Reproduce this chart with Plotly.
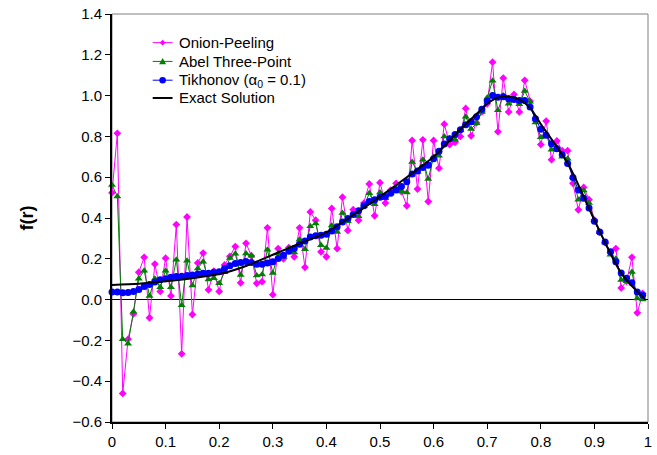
import plotly.graph_objects as go

r = [round(i * 0.01, 2) for i in range(100)]

onion = [0.524, 0.815, -0.46, -0.194, -0.07, 0.134, 0.207, -0.089, 0.174, 0.04,
         0.203, 0.018, 0.368, -0.266, 0.405, -0.073, 0.18, 0.228, 0.048, 0.139,
         0.04, 0.17, 0.212, 0.26, 0.082, 0.276, 0.215, 0.08, 0.088, 0.352,
         0.024, 0.25, 0.20, 0.255, 0.21, 0.352, 0.158, 0.43, 0.389, 0.234,
         0.21, 0.447, 0.25, 0.502, 0.339, 0.441, 0.389, 0.473, 0.567, 0.411,
         0.573, 0.473, 0.537, 0.57, 0.53, 0.46, 0.78, 0.542, 0.783, 0.481,
         0.78, 0.644, 0.86, 0.76, 0.771, 0.80, 0.937, 0.803, 0.867, 0.92,
         0.96, 1.164, 0.823, 1.086, 0.92, 1.006, 0.92, 1.075, 0.973, 0.88,
         0.76, 0.875, 0.686, 0.778, 0.73, 0.73, 0.57, 0.44, 0.55, 0.49,
         0.39, 0.33, 0.28, 0.23, 0.25, 0.057, 0.089, 0.207, -0.065, 0.03]

abel = [0.562, 0.505, -0.194, -0.216, -0.06, 0.102, 0.142, 0.018, 0.102, 0.061,
        0.142, 0.061, 0.195, -0.028, 0.19, 0.069, 0.153, 0.186, 0.098, 0.105,
        0.08, 0.134, 0.204, 0.225, 0.121, 0.226, 0.215, 0.118, 0.123, 0.244,
        0.131, 0.226, 0.21, 0.25, 0.231, 0.295, 0.247, 0.36, 0.373, 0.266,
        0.253, 0.363, 0.331, 0.425, 0.384, 0.417, 0.408, 0.457, 0.521, 0.468,
        0.525, 0.497, 0.521, 0.546, 0.53, 0.525, 0.675, 0.626, 0.686, 0.591,
        0.70, 0.705, 0.80, 0.79, 0.783, 0.83, 0.896, 0.836, 0.864, 0.92,
        0.99, 1.073, 0.928, 1.0, 0.96, 0.981, 0.957, 1.022, 0.97, 0.868,
        0.796, 0.81, 0.735, 0.745, 0.70, 0.691, 0.60, 0.49, 0.535, 0.473,
        0.39, 0.33, 0.28, 0.22, 0.20, 0.096, 0.09, 0.135, 0.005, 0.0]

tikhonov = [0.037, 0.037, 0.034, 0.035, 0.04, 0.05, 0.064, 0.074, 0.086, 0.097,
            0.102, 0.11, 0.113, 0.115, 0.118, 0.121, 0.126, 0.129, 0.129, 0.134,
            0.137, 0.153, 0.166, 0.177, 0.182, 0.187, 0.182, 0.173, 0.173, 0.179,
            0.185, 0.202, 0.218, 0.237, 0.25, 0.271, 0.287, 0.307, 0.313, 0.315,
            0.32, 0.336, 0.357, 0.381, 0.397, 0.417, 0.436, 0.46, 0.481, 0.489,
            0.502, 0.505, 0.521, 0.537, 0.554, 0.578, 0.616, 0.631, 0.647, 0.659,
            0.691, 0.727, 0.763, 0.788, 0.809, 0.833, 0.857, 0.872, 0.896, 0.933,
            0.973, 1.0, 0.992, 0.994, 0.984, 0.981, 0.976, 0.976, 0.944, 0.886,
            0.835, 0.806, 0.764, 0.739, 0.71, 0.667, 0.599, 0.537, 0.497, 0.449,
            0.384, 0.331, 0.282, 0.234, 0.186, 0.131, 0.105, 0.082, 0.037, 0.021]

exact_r = [0, 0.05, 0.1, 0.15, 0.2, 0.25, 0.3, 0.35, 0.4, 0.45, 0.5, 0.55, 0.6,
           0.65, 0.68, 0.7, 0.72, 0.74, 0.76, 0.78, 0.8, 0.85, 0.9, 0.95, 0.995]
exact = [0.072, 0.078, 0.09, 0.105, 0.125, 0.165, 0.22, 0.275, 0.33, 0.415, 0.505,
         0.60, 0.70, 0.835, 0.91, 0.96, 0.99, 0.995, 0.98, 0.94, 0.86, 0.67, 0.39,
         0.13, 0.0]

series_names = ["Onion-Peeling", "Abel Three-Point",
                "Tikhonov (α<sub>0</sub> = 0.1)", "Exact Solution"]
series_colors = ["#FF00FF", "#008000", "#0000FF", "#000000"]

x_ticks = [0, 0.1, 0.2, 0.3, 0.4, 0.5, 0.6, 0.7, 0.8, 0.9, 1]
x_tick_text = ["0", "0.1", "0.2", "0.3", "0.4", "0.5", "0.6", "0.7", "0.8", "0.9", "1"]
y_ticks = [-0.6, -0.4, -0.2, 0.0, 0.2, 0.4, 0.6, 0.8, 1.0, 1.2, 1.4]

FONT = "Arial, Liberation Sans, sans-serif"
W, H = 657, 455
ML, MR, MT, MB = 112, 5, 12, 30
PW, PH = W - ML - MR, H - MT - MB


def px(xp):
    return (xp - ML) / PW


def py(yp):
    return 1 - (yp - MT) / PH


fig = go.Figure()
fig.add_trace(go.Scatter(
    x=r, y=onion, name=series_names[0], mode="lines+markers",
    line=dict(color=series_colors[0], width=1),
    marker=dict(symbol="diamond", size=6, color=series_colors[0]),
    cliponaxis=False, showlegend=False))
fig.add_trace(go.Scatter(
    x=r, y=abel, name=series_names[1], mode="lines+markers",
    line=dict(color=series_colors[1], width=1),
    marker=dict(symbol="triangle-up", size=7, color=series_colors[1]),
    cliponaxis=False, showlegend=False))
fig.add_trace(go.Scatter(
    x=r, y=tikhonov, name=series_names[2], mode="lines+markers",
    line=dict(color=series_colors[2], width=1),
    marker=dict(symbol="circle", size=7, color=series_colors[2]),
    cliponaxis=False, showlegend=False))
fig.add_trace(go.Scatter(
    x=exact_r, y=exact, name=series_names[3], mode="lines",
    line=dict(color=series_colors[3], width=2, shape="spline", smoothing=0.8),
    showlegend=False))

# plot frame (grey top/right)
fig.add_shape(type="rect", xref="paper", yref="paper", x0=0, x1=1, y0=0, y1=1,
              line=dict(color="#808080", width=1), layer="below")

# manual legend (compact spacing as in the reference)
leg_rows = [41, 60, 79, 97]
lx0, lx1, ltx = 153, 173, 177
for i, (name, col) in enumerate(zip(series_names, series_colors)):
    yy = leg_rows[i]
    fig.add_shape(type="line", xref="paper", yref="paper",
                  x0=px(lx0), x1=px(lx1), y0=py(yy), y1=py(yy),
                  line=dict(color=col, width=2 if i == 3 else 1))
    cx = (lx0 + lx1) / 2
    if i == 0:
        s = 3
        path = (f"M {px(cx)},{py(yy - s)} L {px(cx + s)},{py(yy)} "
                f"L {px(cx)},{py(yy + s)} L {px(cx - s)},{py(yy)} Z")
        fig.add_shape(type="path", xref="paper", yref="paper", path=path,
                      fillcolor=col, line=dict(color=col, width=0))
    elif i == 1:
        s = 3.5
        path = (f"M {px(cx)},{py(yy - s)} L {px(cx + s)},{py(yy + s * 0.8)} "
                f"L {px(cx - s)},{py(yy + s * 0.8)} Z")
        fig.add_shape(type="path", xref="paper", yref="paper", path=path,
                      fillcolor=col, line=dict(color=col, width=0))
    elif i == 2:
        s = 3.3
        fig.add_shape(type="circle", xref="paper", yref="paper",
                      x0=px(cx - s), x1=px(cx + s), y0=py(yy + s), y1=py(yy - s),
                      fillcolor=col, line=dict(color=col, width=0))
    fig.add_annotation(x=px(ltx), y=py(yy), xref="paper", yref="paper",
                       text=name, showarrow=False, xanchor="left", yanchor="middle",
                       font=dict(size=15, family=FONT, color="black"))

fig.update_layout(
    width=W, height=H,
    margin=dict(l=ML, r=MR, t=MT, b=MB),
    paper_bgcolor="white", plot_bgcolor="white",
    font=dict(family=FONT, size=15, color="black"),
    showlegend=False,
)
fig.update_xaxes(
    range=[0, 1], tickmode="array", tickvals=x_ticks, ticktext=x_tick_text,
    showgrid=False, zeroline=False, showline=True, linecolor="black", linewidth=2,
    ticks="outside", ticklen=5, tickcolor="black", tickwidth=1,
    tickfont=dict(size=15, family=FONT))
fig.update_yaxes(
    range=[-0.6, 1.4], tickmode="array", tickvals=y_ticks, tickformat=".1f",
    showgrid=False, zeroline=True, zerolinecolor="black", zerolinewidth=1,
    showline=True, linecolor="black", linewidth=2,
    ticks="outside", ticklen=5, tickcolor="black", tickwidth=1,
    tickfont=dict(size=15, family=FONT),
    title=dict(text="<b>f(r)</b>", font=dict(size=18, family=FONT), standoff=34))

fig.write_html("out.html")
